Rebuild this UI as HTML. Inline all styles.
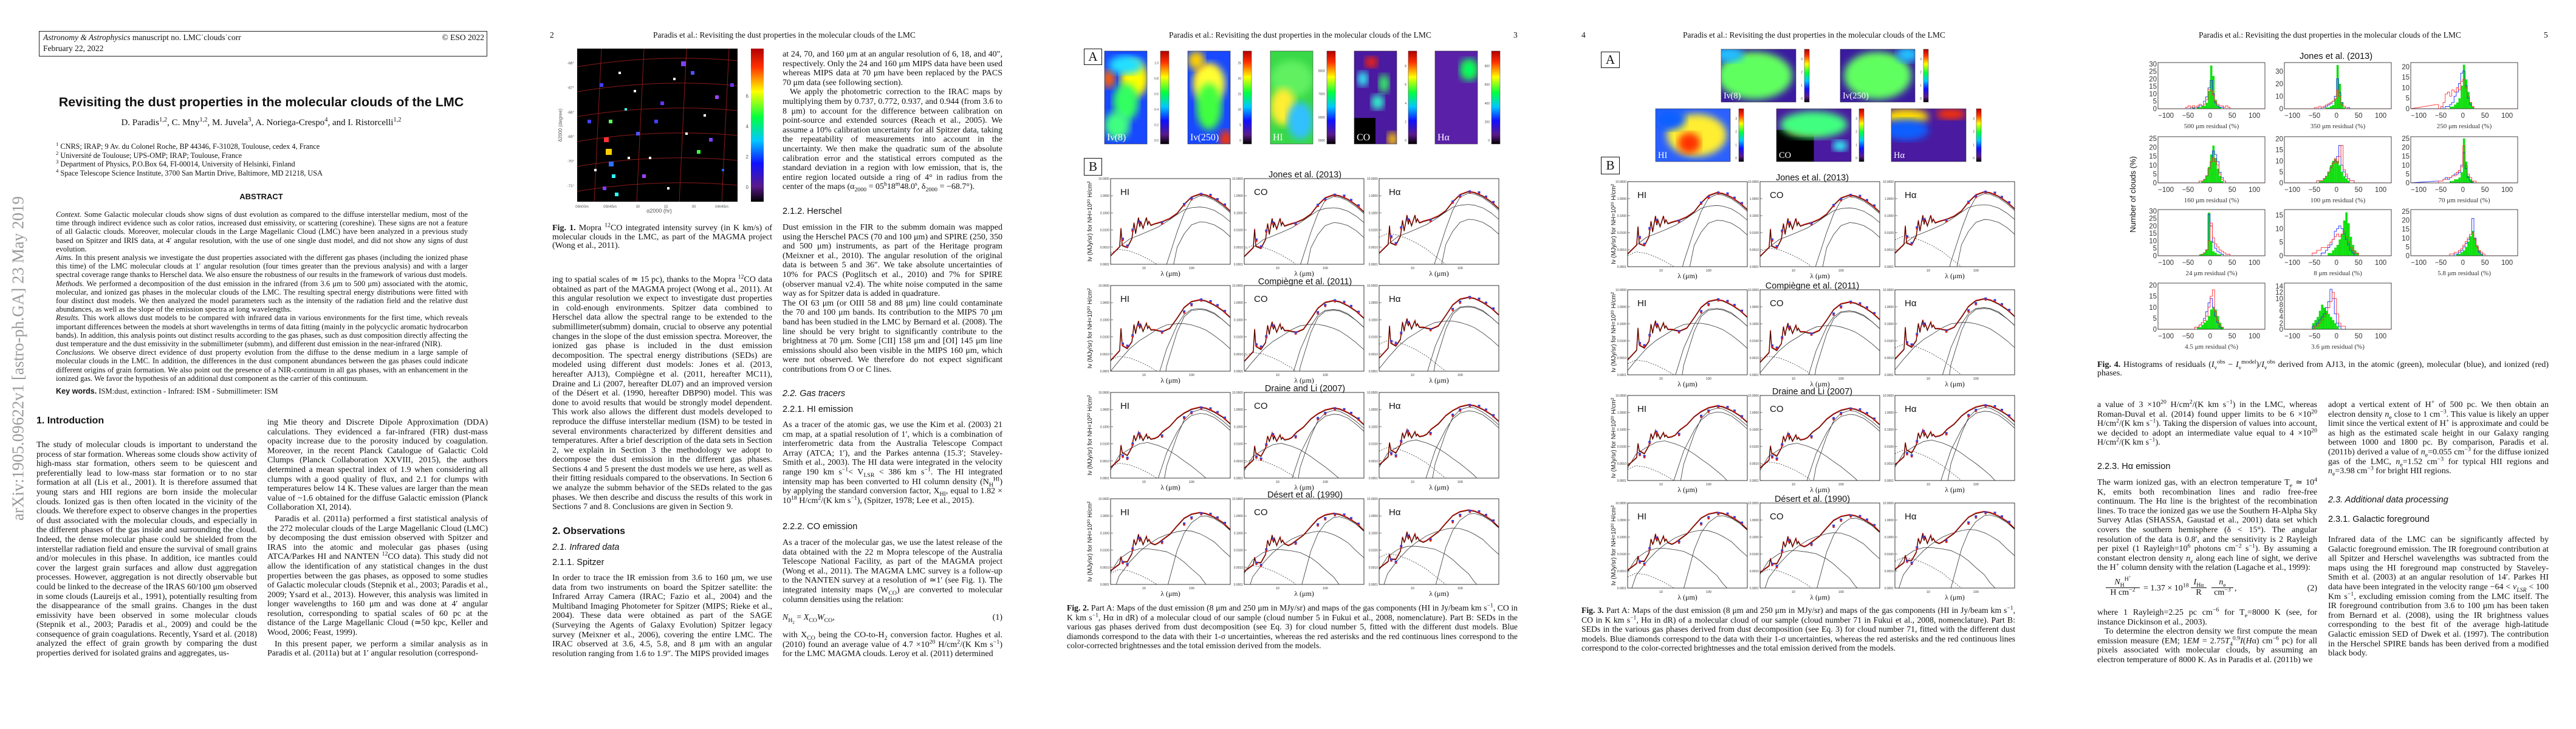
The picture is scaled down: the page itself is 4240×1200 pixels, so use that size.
<!DOCTYPE html>
<html><head><meta charset="utf-8">
<style>
html,body{margin:0;padding:0;background:#fff;}
#root{position:relative;width:4240px;height:1200px;overflow:hidden;background:#fff;font-family:"Liberation Serif",serif;color:#111;}
.abs{position:absolute;}
.txt{position:absolute;font-family:"Liberation Serif",serif;font-size:14px;line-height:15.6px;text-align:justify;color:#111;}
.txt p{margin:0;}
.ind{text-indent:12px;}
.hd{position:absolute;font-family:"Liberation Sans",sans-serif;font-size:14.5px;color:#111;white-space:nowrap;}
.run{position:absolute;font-size:13.5px;white-space:nowrap;top:50px;}
.cap{position:absolute;font-size:13.7px;line-height:15.5px;text-align:justify;}
sup,sub{font-size:70%;line-height:0;}
i{font-style:italic;}
</style></head>
<body>
<div id="root">
<svg id="chart" class="abs" style="left:0;top:0" width="4240" height="1200"></svg>

<!-- PAGE 1 -->
<div class="abs" style="left:64px;top:51px;width:736px;height:40px;border:1px solid #222;">
  <div class="abs" style="left:6px;top:2px;font-size:13.5px;white-space:nowrap"><i>Astronomy &amp; Astrophysics</i> manuscript no. LMC˙clouds˙corr</div>
  <div class="abs" style="left:6px;top:20px;font-size:13.5px">February 22, 2022</div>
  <div class="abs" style="right:4px;top:2px;font-size:13.5px">© ESO 2022</div>
</div>
<div class="abs" style="left:60px;width:740px;top:156px;text-align:center;font-family:'Liberation Sans',sans-serif;font-weight:bold;font-size:21.5px;white-space:nowrap">Revisiting the dust properties in the molecular clouds of the LMC</div>
<div class="abs" style="left:60px;width:740px;top:194px;text-align:center;font-size:15px">D. Paradis<sup>1,2</sup>, C. Mny<sup>1,2</sup>, M. Juvela<sup>3</sup>, A. Noriega-Crespo<sup>4</sup>, and I. Ristorcelli<sup>1,2</sup></div>
<div class="abs" style="left:92px;top:234px;font-size:12.3px;line-height:14.6px">
<div><sup>1</sup> CNRS; IRAP; 9 Av. du Colonel Roche, BP 44346, F-31028, Toulouse, cedex 4, France</div>
<div><sup>2</sup> Université de Toulouse; UPS-OMP; IRAP; Toulouse, France</div>
<div><sup>3</sup> Department of Physics, P.O.Box 64, FI-00014, University of Helsinki, Finland</div>
<div><sup>4</sup> Space Telescope Science Institute, 3700 San Martin Drive, Baltimore, MD 21218, USA</div>
</div>
<div class="abs" style="left:60px;width:740px;top:316px;text-align:center;font-family:'Liberation Sans',sans-serif;font-weight:bold;font-size:13px">ABSTRACT</div>
<div class="txt" style="left:92px;top:346px;width:678px;font-size:12.6px;line-height:14.2px">
<p><i>Context.</i> Some Galactic molecular clouds show signs of dust evolution as compared to the diffuse interstellar medium, most of the time through indirect evidence such as color ratios, increased dust emissivity, or scattering (coreshine). These signs are not a feature of all Galactic clouds. Moreover, molecular clouds in the Large Magellanic Cloud (LMC) have been analyzed in a previous study based on Spitzer and IRIS data, at 4′ angular resolution, with the use of one single dust model, and did not show any signs of dust evolution.</p>
<p><i>Aims.</i> In this present analysis we investigate the dust properties associated with the different gas phases (including the ionized phase this time) of the LMC molecular clouds at 1′ angular resolution (four times greater than the previous analysis) and with a larger spectral coverage range thanks to Herschel data. We also ensure the robustness of our results in the framework of various dust models.</p>
<p><i>Methods.</i> We performed a decomposition of the dust emission in the infrared (from 3.6 μm to 500 μm) associated with the atomic, molecular, and ionized gas phases in the molecular clouds of the LMC. The resulting spectral energy distributions were fitted with four distinct dust models. We then analyzed the model parameters such as the intensity of the radiation field and the relative dust abundances, as well as the slope of the emission spectra at long wavelengths.</p>
<p><i>Results.</i> This work allows dust models to be compared with infrared data in various environments for the first time, which reveals important differences between the models at short wavelengths in terms of data fitting (mainly in the polycyclic aromatic hydrocarbon bands). In addition, this analysis points out distinct results according to the gas phases, such as dust composition directly affecting the dust temperature and the dust emissivity in the submillimeter (submm), and different dust emission in the near-infrared (NIR).</p>
<p><i>Conclusions.</i> We observe direct evidence of dust property evolution from the diffuse to the dense medium in a large sample of molecular clouds in the LMC. In addition, the differences in the dust component abundances between the gas phases could indicate different origins of grain formation. We also point out the presence of a NIR-continuum in all gas phases, with an enhancement in the ionized gas. We favor the hypothesis of an additional dust component as the carrier of this continuum.</p>
</div>
<div class="abs" style="left:92px;top:637px;font-size:12.6px"><b style="font-family:'Liberation Sans',sans-serif">Key words.</b> ISM:dust, extinction - Infrared: ISM - Submillimeter: ISM</div>
<div class="abs" style="left:30px;top:590px;width:0;height:0"><div style="position:absolute;transform:translate(-50%,-50%) rotate(-90deg);white-space:nowrap;font-size:27px;color:#9a9a9a;left:0;top:0">arXiv:1905.09622v1  [astro-ph.GA]  23 May 2019</div></div>
<div class="hd" style="left:60px;top:684px;font-weight:bold;font-size:16px">1. Introduction</div>
<div class="txt" style="left:60px;top:725px;width:363px"><p>The study of molecular clouds is important to understand the process of star formation. Whereas some clouds show activity of high-mass star formation, others seem to be quiescent and preferentially lead to low-mass star formation or to no star formation at all (Lis et al., 2001). It is therefore assumed that young stars and HII regions are born inside the molecular clouds. Ionized gas is then often located in the vicinity of the clouds. We therefore expect to observe changes in the properties of dust associated with the molecular clouds, and especially in the different phases of the gas inside and surrounding the cloud. Indeed, the dense molecular phase could be shielded from the interstellar radiation field and ensure the survival of small grains and/or molecules in this phase. In addition, ice mantles could cover the largest grain surfaces and allow dust aggregation processes. However, aggregation is not directly observable but could be linked to the decrease of the IRAS 60/100 μm observed in some clouds (Laureijs et al., 1991), potentially resulting from the disappearance of the small grains. Changes in the dust emissivity have been observed in some molecular clouds (Stepnik et al., 2003; Paradis et al., 2009) and could be the consequence of grain coagulations. Recently, Ysard et al. (2018) analyzed the effect of grain growth by comparing the dust properties derived for isolated grains and aggregates, us-</p></div>
<div class="txt" style="left:440px;top:688px;width:363px"><p>ing Mie theory and Discrete Dipole Approximation (DDA) calculations. They evidenced a far-infrared (FIR) dust-mass opacity increase due to the porosity induced by coagulation. Moreover, in the recent Planck Catalogue of Galactic Cold Clumps (Planck Collaboration XXVIII, 2015), the authors determined a mean spectral index of 1.9 when considering all clumps with a good quality of flux, and 2.1 for clumps with temperatures below 14 K. These values are larger than the mean value of ~1.6 obtained for the diffuse Galactic emission (Planck Collaboration XI, 2014).</p>
<p class="ind" style="margin-top:3px">Paradis et al. (2011a) performed a first statistical analysis of the 272 molecular clouds of the Large Magellanic Cloud (LMC) by decomposing the dust emission observed with Spitzer and IRAS into the atomic and molecular gas phases (using ATCA/Parkes HI and NANTEN <sup>12</sup>CO data). This study did not allow the identification of any statistical changes in the dust properties between the gas phases, as opposed to some studies of Galactic molecular clouds (Stepnik et al., 2003; Paradis et al., 2009; Ysard et al., 2013). However, this analysis was limited in longer wavelengths to 160 μm and was done at 4′ angular resolution, corresponding to spatial scales of 60 pc at the distance of the Large Magellanic Cloud (≃50 kpc, Keller and Wood, 2006; Feast, 1999).</p>
<p class="ind" style="margin-top:3px">In this present paper, we perform a similar analysis as in Paradis et al. (2011a) but at 1′ angular resolution (correspond-</p></div>

<!-- PAGE 2 -->
<div class="run" style="left:905px">2</div>
<div class="run" style="left:1075px">Paradis et al.: Revisiting the dust properties in the molecular clouds of the LMC</div>
<div class="cap" style="left:909px;top:369px;width:362px;font-size:14px;line-height:14.5px"><b>Fig. 1.</b> Mopra <sup>12</sup>CO integrated intensity survey (in K km/s) of molecular clouds in the LMC, as part of the MAGMA project (Wong et al., 2011).</div>
<div class="txt" style="left:909px;top:453px;width:362px"><p>ing to spatial scales of ≃ 15 pc), thanks to the Mopra <sup>12</sup>CO data obtained as part of the MAGMA project (Wong et al., 2011). At this angular resolution we expect to investigate dust properties in cold-enough environments. Spitzer data combined to Herschel data allow the spectral range to be extended to the submillimeter(submm) domain, crucial to observe any potential changes in the slope of the dust emission spectra. Moreover, the ionized gas phase is included in the dust emission decomposition. The spectral energy distributions (SEDs) are modeled using different dust models: Jones et al. (2013, hereafter AJ13), Compiègne et al. (2011, hereafter MC11), Draine and Li (2007, hereafter DL07) and an improved version of the Désert et al. (1990, hereafter DBP90) model. This was done to avoid results that would be strongly model dependent. This work also allows the different dust models developed to reproduce the diffuse interstellar medium (ISM) to be tested in several environments characterized by different densities and temperatures. After a brief description of the data sets in Section 2, we explain in Section 3 the methodology we adopt to decompose the dust emission in the different gas phases. Sections 4 and 5 present the dust models we use here, as well as their fitting residuals compared to the observations. In Section 6 we analyze the submm behavior of the SEDs related to the gas phases. We then describe and discuss the results of this work in Sections 7 and 8. Conclusions are given in Section 9.</p></div>
<div class="hd" style="left:909px;top:866px;font-weight:bold;font-size:16px">2. Observations</div>
<div class="hd" style="left:909px;top:893px;font-style:italic">2.1. Infrared data</div>
<div class="hd" style="left:909px;top:918px">2.1.1. Spitzer</div>
<div class="txt" style="left:909px;top:944px;width:362px"><p>In order to trace the IR emission from 3.6 to 160 μm, we use data from two instruments on board the Spitzer satellite: the Infrared Array Camera (IRAC; Fazio et al., 2004) and the Multiband Imaging Photometer for Spitzer (MIPS; Rieke et al., 2004). These data were obtained as part of the SAGE (Surveying the Agents of Galaxy Evolution) Spitzer legacy survey (Meixner et al., 2006), covering the entire LMC. The IRAC observed at 3.6, 4.5, 5.8, and 8 μm with an angular resolution ranging from 1.6 to 1.9″. The MIPS provided images</p></div>
<div class="txt" style="left:1288px;top:82px;width:362px"><p>at 24, 70, and 160 μm at an angular resolution of 6, 18, and 40″, respectively. Only the 24 and 160 μm MIPS data have been used whereas MIPS data at 70 μm have been replaced by the PACS 70 μm data (see following section).</p>
<p class="ind">We apply the photometric correction to the IRAC maps by multiplying them by 0.737, 0.772, 0.937, and 0.944 (from 3.6 to 8 μm) to account for the difference between calibration on point-source and extended sources (Reach et al., 2005). We assume a 10% calibration uncertainty for all Spitzer data, taking the repeatability of measurements into account in the uncertainty. We then make the quadratic sum of the absolute calibration error and the statistical errors computed as the standard deviation in a region with low emission, that is, the entire region located outside a ring of 4° in radius from the center of the maps (α<sub>2000</sub> = 05<sup>h</sup>18<sup>m</sup>48.0<sup>s</sup>, δ<sub>2000</sub> = −68.7°).</p></div>
<div class="hd" style="left:1288px;top:340px">2.1.2. Herschel</div>
<div class="txt" style="left:1288px;top:367px;width:362px"><p>Dust emission in the FIR to the submm domain was mapped using the Herschel PACS (70 and 100 μm) and SPIRE (250, 350 and 500 μm) instruments, as part of the Heritage program (Meixner et al., 2010). The angular resolution of the original data is between 5 and 36″. We take absolute uncertainties of 10% for PACS (Poglitsch et al., 2010) and 7% for SPIRE (observer manual v2.4). The white noise computed in the same way as for Spitzer data is added in quadrature.</p>
<p>The OI 63 μm (or OIII 58 and 88 μm) line could contaminate the 70 and 100 μm bands. Its contribution to the MIPS 70 μm band has been studied in the LMC by Bernard et al. (2008). The line should be very bright to significantly contribute to the brightness at 70 μm. Some [CII] 158 μm and [OI] 145 μm line emissions should also been visible in the MIPS 160 μm, which were not observed. We therefore do not expect significant contributions from O or C lines.</p></div>
<div class="hd" style="left:1288px;top:640px;font-style:italic">2.2. Gas tracers</div>
<div class="hd" style="left:1288px;top:666px">2.2.1. HI emission</div>
<div class="txt" style="left:1288px;top:692px;width:362px"><p>As a tracer of the atomic gas, we use the Kim et al. (2003) 21 cm map, at a spatial resolution of 1′, which is a combination of interferometric data from the Australia Telescope Compact Array (ATCA; 1′), and the Parkes antenna (15.3′; Staveley-Smith et al., 2003). The HI data were integrated in the velocity range 190 km s<sup>−1</sup>&lt; V<sub>LSR</sub> &lt; 386 km s<sup>−1</sup>. The HI integrated intensity map has been converted to HI column density (N<sub>H</sub><sup>HI</sup>) by applying the standard conversion factor, X<sub>HI</sub>, equal to 1.82 × 10<sup>18</sup> H/cm<sup>2</sup>/(K km s<sup>−1</sup>), (Spitzer, 1978; Lee et al., 2015).</p></div>
<div class="hd" style="left:1288px;top:859px">2.2.2. CO emission</div>
<div class="txt" style="left:1288px;top:886px;width:362px"><p>As a tracer of the molecular gas, we use the latest release of the data obtained with the 22 m Mopra telescope of the Australia Telescope National Facility, as part of the MAGMA project (Wong et al., 2011). The MAGMA LMC survey is a follow-up to the NANTEN survey at a resolution of ≃1′ (see Fig. 1). The integrated intensity maps (W<sub>CO</sub>) are converted to molecular column densities using the relation:</p>
<p style="margin-top:14px;margin-bottom:12px;text-align:left"><i>N</i><sub>H<sub>2</sub></sub> = <i>X</i><sub>CO</sub><i>W</i><sub>CO</sub>,<span style="float:right">(1)</span></p>
<p>with X<sub>CO</sub> being the CO-to-H<sub>2</sub> conversion factor. Hughes et al. (2010) found an average value of 4.7 ×10<sup>20</sup> H/cm<sup>2</sup>/(K Km s<sup>−1</sup>) for the LMC MAGMA clouds. Leroy et al. (2011) determined</p></div>

<!-- PAGE 3 -->
<div class="run" style="left:1924px">Paradis et al.: Revisiting the dust properties in the molecular clouds of the LMC</div>
<div class="run" style="left:2491px">3</div>
<div class="abs" style="left:1784px;top:80px;width:28px;height:25px;border:1px solid #111;font-size:21px;text-align:center;line-height:25px">A</div>
<div class="abs" style="left:1784px;top:260px;width:28px;height:27px;border:1px solid #111;font-size:21px;text-align:center;line-height:27px">B</div>
<div class="cap" style="left:1756px;top:993px;width:742px"><b>Fig. 2.</b> Part A: Maps of the dust emission (8 μm and 250 μm in MJy/sr) and maps of the gas components (HI in Jy/beam km s<sup>−1</sup>, CO in K km s<sup>−1</sup>, Hα in dR) of a molecular cloud of our sample (cloud number 5 in Fukui et al., 2008, nomenclature). Part B: SEDs in the various gas phases derived from dust decomposition (see Eq. 3) for cloud number 5, fitted with the different dust models. Blue diamonds correspond to the data with their 1-σ uncertainties, whereas the red asterisks and the red continuous lines correspond to the color-corrected brightnesses and the total emission derived from the models.</div>

<!-- PAGE 4 -->
<div class="run" style="left:2603px">4</div>
<div class="run" style="left:2770px">Paradis et al.: Revisiting the dust properties in the molecular clouds of the LMC</div>
<div class="abs" style="left:2635px;top:85px;width:29px;height:25px;border:1px solid #111;font-size:21px;text-align:center;line-height:25px">A</div>
<div class="abs" style="left:2635px;top:258px;width:29px;height:27px;border:1px solid #111;font-size:21px;text-align:center;line-height:27px">B</div>
<div class="cap" style="left:2603px;top:997px;width:714px"><b>Fig. 3.</b> Part A: Maps of the dust emission (8 μm and 250 μm in MJy/sr) and maps of the gas components (HI in Jy/beam km s<sup>−1</sup>, CO in K km s<sup>−1</sup>, Hα in dR) of a molecular cloud of our sample (cloud number 71 in Fukui et al., 2008, nomenclature). Part B: SEDs in the various gas phases derived from dust decomposition (see Eq. 3) for cloud number 71, fitted with the different dust models. Blue diamonds correspond to the data with their 1-σ uncertainties, whereas the red asterisks and the red continuous lines correspond to the color-corrected brightnesses and the total emission derived from the models.</div>

<!-- PAGE 5 -->
<div class="run" style="left:3619px">Paradis et al.: Revisiting the dust properties in the molecular clouds of the LMC</div>
<div class="run" style="left:4187px">5</div>
<div class="cap" style="left:3452px;top:594px;width:743px;font-size:14px;line-height:14px"><b>Fig. 4.</b> Histograms of residuals (<i>I</i><sub>ν</sub><sup>obs</sup> − <i>I</i><sub>ν</sub><sup>model</sup>)/<i>I</i><sub>ν</sub><sup>obs</sup> derived from AJ13, in the atomic (green), molecular (blue), and ionized (red) phases.</div>
<div class="txt" style="left:3452px;top:659px;width:362px"><p>a value of 3 ×10<sup>20</sup> H/cm<sup>2</sup>/(K km s<sup>−1</sup>) in the LMC, whereas Roman-Duval et al. (2014) found upper limits to be 6 ×10<sup>20</sup> H/cm<sup>2</sup>/(K km s<sup>−1</sup>). Taking the dispersion of values into account, we decided to adopt an intermediate value equal to 4 ×10<sup>20</sup> H/cm<sup>2</sup>/(K km s<sup>−1</sup>).</p></div>
<div class="hd" style="left:3452px;top:760px">2.2.3. Hα emission</div>
<div class="txt" style="left:3452px;top:787px;width:362px"><p>The warm ionized gas, with an electron temperature T<sub>e</sub> ≃ 10<sup>4</sup> K, emits both recombination lines and radio free-free continuum. The Hα line is the brightest of the recombination lines. To trace the ionized gas we use the Southern H-Alpha Sky Survey Atlas (SHASSA, Gaustad et al., 2001) data set which covers the southern hemisphere (δ &lt; 15°). The angular resolution of the data is 0.8′, and the sensitivity is 2 Rayleigh per pixel (1 Rayleigh=10<sup>6</sup> photons cm<sup>−2</sup> s<sup>−1</sup>). By assuming a constant electron density <i>n<sub>e</sub></i> along each line of sight, we derive the H<sup>+</sup> column density with the relation (Lagache et al., 1999):</p>
<div style="height:58px;position:relative;text-align:left">
 <div style="position:absolute;left:14px;top:8px;text-align:center;width:56px"><div style="border-bottom:1px solid #111"><i>N</i><sub>H</sub><sup>H<sup>+</sup></sup></div><div>H cm<sup>−2</sup></div></div>
 <div style="position:absolute;left:76px;top:18px">= 1.37 × 10<sup>18</sup></div>
 <div style="position:absolute;left:154px;top:8px;text-align:center;width:26px"><div style="border-bottom:1px solid #111"><i>I</i><sub>Hα</sub></div><div>R</div></div>
 <div style="position:absolute;left:188px;top:8px;text-align:center;width:36px"><div style="border-bottom:1px solid #111"><i>n</i><sub>e</sub></div><div>cm<sup>−3</sup></div></div>
 <div style="position:absolute;left:226px;top:18px">,</div>
 <div style="position:absolute;right:0;top:18px">(2)</div>
</div>
<p>where 1 Rayleigh=2.25 pc cm<sup>−6</sup> for T<sub>e</sub>=8000 K (see, for instance Dickinson et al., 2003).</p>
<p class="ind">To determine the electron density we first compute the mean emission measure (EM; 1<i>EM</i> = 2.75<i>T</i><sub>4</sub><sup>0.9</sup><i>I</i>(<i>H</i>α) cm<sup>−6</sup> pc) for all pixels associated with molecular clouds, by assuming an electron temperature of 8000 K. As in Paradis et al. (2011b) we</p></div>
<div class="txt" style="left:3832px;top:659px;width:363px"><p>adopt a vertical extent of H<sup>+</sup> of 500 pc. We then obtain an electron density <i>n</i><sub>e</sub> close to 1 cm<sup>−3</sup>. This value is likely an upper limit since the vertical extent of H<sup>+</sup> is approximate and could be as high as the estimated scale height in our Galaxy ranging between 1000 and 1800 pc. By comparison, Paradis et al. (2011b) derived a value of <i>n</i><sub>e</sub>=0.055 cm<sup>−3</sup> for the diffuse ionized gas of the LMC, <i>n</i><sub>e</sub>=1.52 cm<sup>−3</sup> for typical HII regions and <i>n</i><sub>e</sub>=3.98 cm<sup>−3</sup> for bright HII regions.</p></div>
<div class="hd" style="left:3832px;top:815px;font-style:italic">2.3. Additional data processing</div>
<div class="hd" style="left:3832px;top:847px">2.3.1. Galactic foreground</div>
<div class="txt" style="left:3832px;top:881px;width:363px"><p>Infrared data of the LMC can be significantly affected by Galactic foreground emission. The IR foreground contribution at all Spitzer and Herschel wavelengths was subtracted from the maps using the HI foreground map constructed by Staveley-Smith et al. (2003) at an angular resolution of 14′. Parkes HI data have been integrated in the velocity range −64 &lt; <i>v<sub>LSR</sub></i> &lt; 100 Km s<sup>−1</sup>, excluding emission coming from the LMC itself. The IR foreground contribution from 3.6 to 100 μm has been taken from Bernard et al. (2008), using the IR brightness values corresponding to the best fit of the average high-latitude Galactic emission SED of Dwek et al. (1997). The contribution in the Herschel SPIRE bands has been derived from a modified black body.</p></div>
</div>

<script>
// ---------- SED data ----------
const sedL = [2,3.1,3.3,3.5,4.5,5.6,6.2,6.7,7.0,7.7,8.2,8.6,9.6,11.3,12.0,12.7,14,17,20,25,35,50,70,100,150,200,300,450,650];
const aj13Total = [0.0003,0.001,0.012,0.0012,0.0009,0.003,0.025,0.006,0.012,0.05,0.015,0.03,0.012,0.05,0.02,0.03,0.018,0.022,0.025,0.03,0.045,0.09,0.3,0.8,1.2,1.05,0.65,0.3,0.12];
const mc11Total = [0.0004,0.0015,0.03,0.003,0.002,0.005,0.05,0.015,0.03,0.08,0.03,0.05,0.02,0.06,0.03,0.04,0.025,0.025,0.022,0.02,0.03,0.12,0.5,1.1,1.4,1.2,0.7,0.33,0.13];
const dl07Total = [0.0004,0.0012,0.008,0.003,0.002,0.006,0.03,0.015,0.02,0.045,0.02,0.03,0.015,0.035,0.02,0.025,0.018,0.02,0.025,0.05,0.1,0.3,0.6,1.0,1.3,1.15,0.7,0.35,0.14];
const dbp90Total = [0.0006,0.0015,0.004,0.002,0.002,0.006,0.04,0.02,0.025,0.08,0.03,0.05,0.02,0.06,0.03,0.04,0.025,0.02,0.025,0.04,0.08,0.25,0.7,1.2,1.5,1.3,0.8,0.4,0.15];
const compL = [2,3,5,8,12,20,30,50,70,100,150,200,300,450,650];
const aj13CompA = [0.0003,0.001,0.003,0.005,0.008,0.015,0.03,0.08,0.15,0.2,0.22,0.2,0.14,0.07,0.03];
const aj13CompB = [1e-7,1e-7,1e-7,1e-7,1e-7,1e-6,0.0001,0.008,0.1,0.6,1.0,0.9,0.55,0.25,0.1];
const aj13CompC = [1e-7,1e-7,1e-7,1e-7,1e-7,1e-7,1e-6,0.001,0.006,0.02,0.03,0.028,0.02,0.01,0.004];
const mc11CompA = [0.0001,0.0004,0.002,0.006,0.012,0.03,0.05,0.06,0.06,0.05,0.035,0.025,0.012,0.005,0.002];
const mc11CompB = [1e-7,1e-7,1e-7,1e-7,1e-7,0.00005,0.002,0.05,0.2,0.4,0.45,0.4,0.25,0.1,0.04];
const mc11CompC = [1e-7,1e-7,1e-7,1e-7,1e-7,1e-7,0.0002,0.02,0.15,0.35,0.4,0.36,0.22,0.1,0.04];
const dl07CompA = [0.0003,0.002,0.005,0.01,0.012,0.008,0.005,0.002,0.001,0.0005,0.0002,0.0001,0.00003,0.00001,1e-6];
const dl07CompB = [1e-7,1e-7,1e-7,1e-7,1e-6,0.0001,0.003,0.05,0.2,0.45,0.6,0.55,0.35,0.15,0.06];
const dl07CompC = [1e-7,1e-7,1e-7,1e-7,1e-7,1e-6,0.0005,0.03,0.25,0.7,1.0,0.9,0.5,0.22,0.09];
const dbp90CompA = [0.0005,0.003,0.008,0.012,0.012,0.01,0.008,0.004,0.002,0.0008,0.0003,0.0001,0.00003,1e-6,1e-7];
const dbp90CompB = [0.00001,0.0003,0.002,0.008,0.02,0.05,0.08,0.12,0.14,0.13,0.09,0.06,0.03,0.01,0.004];
const dbp90CompC = [1e-7,1e-7,1e-7,1e-7,1e-7,1e-7,0.00005,0.01,0.1,0.4,0.9,1.0,0.7,0.35,0.14];
const nirCont = [0.0015,0.0025,0.002,0.0012,0.0007,0.0003,0.00012,0.00004,0.00001,1e-6,1e-7,1e-7,1e-7,1e-7,1e-7];
const obsL = [3.6,4.5,5.8,8,24,70,100,160,250,350,500];
const aj13Obs = [0.003,0.0012,0.01,0.03,0.027,0.32,0.7,1.25,1.1,0.62,0.3];
const mc11Obs = [0.004,0.003,0.012,0.05,0.02,0.3,0.8,1.5,1.2,0.7,0.32];
const dl07Obs = [0.002,0.0015,0.01,0.04,0.03,0.35,0.7,1.3,1.15,0.7,0.33];
const dbp90Obs = [0.002,0.0015,0.012,0.05,0.03,0.35,0.8,1.4,1.3,0.8,0.38];
const phaseNames = ['HI','CO','Hα'];
const fig2PhaseScale = [1,0.9,1.4];
const fig3PhaseScale = [1.8,1.3,2.0];
const phaseNirScale = [0.3,0.5,2.5];
const sedYTickLabels = ['0.0001','0.0010','0.0100','0.1000','1.0000','10.0000'];
const sedXTicks = [10,100];
const modelTitles = ['Jones et al. (2013)','Compiègne et al. (2011)','Draine and Li (2007)','Désert et al. (1990)'];

// ---------- histogram data (Fig 4, % of clouds, bins of 5 from -60) ----------
const histBinStart = -60;
const histBinWidth = 5;
const hist500G = [0,0,0,0,1,0,1,1,2,2,4,12,29,22,6,2,1,0,0,0,0,0,0,0];
const hist500B = [0,0,0,1,0,1,1,2,2,5,8,14,19,10,4,2,1,1,0,0,0,0,0,0];
const hist500R = [0,1,2,1,2,1,2,3,2,3,6,13,12,9,5,3,2,2,1,2,1,0,0,0];
const hist350G = [0,0,0,0,0,0,0,1,1,2,3,8,35,20,5,1,0,0,0,0,0,0,0,0];
const hist350B = [0,0,0,0,0,1,1,2,3,4,6,10,24,13,5,2,1,1,0,0,0,0,0,0];
const hist350R = [0,0,1,1,2,1,2,3,4,5,6,8,15,10,3,2,1,0,0,0,0,0,0,0];
const hist250G = [0,0,0,0,0,0,1,1,2,3,5,11,21,14,8,3,1,0,0,0,0,0,0,0];
const hist250B = [0,0,1,0,1,1,2,3,6,8,12,17,18,11,5,2,1,0,0,0,0,0,0,0];
const hist250R = [2,0,1,3,7,8,6,9,8,10,9,13,14,10,6,3,1,0,0,0,0,0,0,0];
const hist160G = [0,0,0,0,0,0,0,0,1,2,4,9,16,21,14,8,4,1,0,0,0,0,0,0];
const hist160B = [0,0,0,0,0,0,0,1,1,2,4,8,12,18,16,12,6,3,1,0,0,0,0,0];
const hist160R = [0,0,0,0,0,0,0,1,1,2,4,8,12,14,12,10,5,2,1,0,0,0,0,0];
const hist100G = [0,0,0,0,1,1,2,3,5,8,10,11,10,8,5,3,2,1,0,0,0,0,0,0];
const hist100B = [0,0,0,1,1,1,2,3,5,7,9,10,12,17,8,5,3,2,1,1,0,0,0,0];
const hist100R = [0,0,0,1,1,1,2,3,5,7,9,11,9,12,17,6,4,2,1,1,0,0,0,0];
const hist70G = [0,0,0,0,0,0,1,1,2,2,3,6,25,12,4,2,1,0,0,0,0,0,0,0];
const hist70B = [1,1,1,2,3,2,3,4,5,5,6,10,17,8,3,1,0,0,0,0,0,0,0,0];
const hist70R = [0,1,1,2,2,3,3,4,4,6,7,9,21,10,5,3,1,1,0,0,0,0,0,0];
const hist24G = [0,0,0,0,0,0,0,1,1,2,4,29,10,3,2,1,1,0,0,0,0,0,0,0];
const hist24B = [0,0,0,0,0,0,0,0,1,2,4,28,20,9,5,3,2,1,0,0,0,0,0,0];
const hist24R = [0,0,0,0,0,0,0,0,1,2,4,10,22,12,8,6,4,3,2,1,1,0,0,0];
const hist8G = [0,0,0,0,0,0,0,0,1,1,2,3,4,6,8,13,16,12,7,4,2,1,0,0];
const hist8B = [0,0,0,0,0,1,1,2,3,4,6,9,10,11,10,8,6,4,2,1,0,0,0,0];
const hist8R = [0,1,1,2,2,3,3,3,4,5,6,7,8,7,8,9,7,5,3,2,1,1,0,0];
const hist58G = [0,0,0,0,0,0,0,0,0,1,1,2,3,5,8,11,14,10,6,3,1,0,0,0];
const hist58B = [0,0,0,0,0,0,0,0,1,1,2,3,5,7,9,12,21,10,5,2,1,0,0,0];
const hist58R = [0,0,0,0,0,0,1,1,2,2,3,4,6,8,10,12,13,9,5,3,2,1,0,0];
const hist45G = [0,0,0,0,0,0,1,1,2,3,4,6,9,10,9,6,3,1,0,0,0,0,0,0];
const hist45B = [0,0,0,0,0,1,1,2,3,5,8,12,14,10,6,3,1,0,0,0,0,0,0,0];
const hist45R = [0,0,0,0,0,1,1,2,3,4,6,10,15,18,8,4,2,1,0,0,0,0,0,0];
const hist36G = [0,2,3,4,6,8,7,6,5,4,3,2,1,0,0,0,0,0,0,0,0,0,0,0];
const hist36B = [0,1,1,2,3,4,5,7,9,13,10,5,2,1,0,0,0,0,0,0,0,0,0,0];
const hist36R = [0,0,1,1,2,3,4,5,7,9,12,10,5,2,1,1,0,0,0,0,0,0,0,0];
const histLabels = ['500 μm residual (%)','350 μm residual (%)','250 μm residual (%)','160 μm residual (%)','100 μm residual (%)','70 μm residual (%)','24 μm residual (%)','8 μm residual (%)','5.8 μm residual (%)','4.5 μm residual (%)','3.6 μm residual (%)'];
const histYMax = [31,37,22,26,21,26,31,17,26,21,15];
const histYStep = [5,10,5,5,5,5,5,5,5,5,2];
const histXTicks = [-100,-50,0,50,100];

// ---------- fig1 data: CO cloud positions (pixel offsets inside map) ----------
const fig1Clouds = [[40,60,3,'#4040ff'],[55,120,3,'#60ff60'],[48,150,4,'#ff3030'],[52,170,5,'#ffcc00'],[56,190,4,'#3070ff'],[60,210,3,'#30ffff'],[45,230,3,'#8040ff'],[30,200,2,'#ffffff'],[80,100,2,'#40ffff'],[100,140,3,'#5050ff'],[120,180,2,'#ffffff'],[140,90,3,'#6a30ff'],[160,50,2,'#ffffff'],[175,25,4,'#8040ff'],[190,40,3,'#5050ff'],[210,110,2,'#ffffff'],[230,80,3,'#a040ff'],[200,170,3,'#40ff40'],[150,230,2,'#ffffff'],[110,210,3,'#a040ff'],[240,200,2,'#3060ff'],[255,60,3,'#6a30ff'],[70,40,2,'#ffffff'],[95,70,2,'#ffffff'],[130,120,3,'#4040ff'],[180,140,2,'#ffffff'],[220,150,3,'#8040ff'],[20,120,3,'#4040ff'],[65,240,3,'#30ffff'],[85,180,2,'#ffffff']];

const NS='http://www.w3.org/2000/svg';
const svg=document.getElementById('chart');
function mk(tag,parent){const e=document.createElementNS(NS,tag);parent.appendChild(e);return e;}
function setA(e,o){for(const k in o)e.setAttribute(k,o[k]);}

const defs=mk('defs',svg);
defs.innerHTML='<linearGradient id="jet" x1="0" y1="1" x2="0" y2="0"><stop offset="0" stop-color="#000"/><stop offset="0.1" stop-color="#5a1a8a"/><stop offset="0.25" stop-color="#1010ff"/><stop offset="0.4" stop-color="#00c8ff"/><stop offset="0.55" stop-color="#00ff40"/><stop offset="0.72" stop-color="#ffff00"/><stop offset="0.88" stop-color="#ff3000"/><stop offset="1" stop-color="#b00000"/></linearGradient><filter id="blur6"><feGaussianBlur stdDeviation="6"/></filter><filter id="blur9"><feGaussianBlur stdDeviation="9"/></filter>';

function txt(parent,x,y,s,size,anchor,extra){const t=mk('text',parent);setA(t,{x:x,y:y,'font-size':size,'text-anchor':anchor||'start','font-family':'Liberation Sans, sans-serif',fill:'#111'});if(extra)setA(t,extra);t.textContent=s;return t;}

// ---------- Fig 1 ----------
(function(){
 const g=mk('g',svg);
 
 
 const x0=950,y0=80,w=264,h=252;
 const bg=mk('rect',g);setA(bg,{x:x0,y:y0,width:w,height:h,fill:'#000'});
 for(let i=0;i<6;i++){const p=mk('path',g);const yy=y0+22+i*41;setA(p,{d:`M${x0} ${yy+8} Q${x0+w/2} ${yy-14} ${x0+w} ${yy-2}`,stroke:'#8a1a1a','stroke-width':1,fill:'none'});}
 for(let i=0;i<4;i++){const p=mk('path',g);const xx=x0+40+i*70;setA(p,{d:`M${xx} ${y0} L${xx-12} ${y0+h}`,stroke:'#8a1a1a','stroke-width':1,fill:'none'});}
 fig1Clouds.forEach(c=>{const r=mk('rect',g);setA(r,{x:x0+c[0]-c[2],y:y0+c[1]-c[2],width:c[2]*2,height:c[2]*2,fill:c[3]});});
 const cb=mk('rect',g);setA(cb,{x:1236,y:80,width:21,height:252,fill:'url(#jet)'});
 ['0','2','4','6'].forEach((s,i)=>txt(g,1232,311-i*50,s,8,'end',{fill:'#555'}));
 ['-66°','-67°','-68°','-69°','-70°','-71°'].forEach((s,i)=>txt(g,945,106+i*40.4,s,6,'end',{fill:'#555'}));
 ['06h00m','05h45m','30','15','00','04h45m'].forEach((s,i)=>txt(g,958+i*46,342,s,6,'middle',{fill:'#555'}));
 txt(g,925,206,'δ2000 (degree)',8,'middle',{transform:'rotate(-90 925 206)',fill:'#555'});
 txt(g,1085,350,'α2000 (hr)',9,'middle',{fill:'#555'});
})();

// ---------- maps ----------
function map(x,y,w,h,bgc,blobs,label,dark,name){
 const g=mk('g',svg);
 
 
 const cp=mk('clipPath',defs);cp.id='cp'+name;const cr=mk('rect',cp);setA(cr,{x:x,y:y,width:w,height:h});
 const inner=mk('g',g);inner.setAttribute('clip-path',`url(#cp${name})`);
 const b=mk('rect',inner);setA(b,{x:x,y:y,width:w,height:h,fill:bgc});
 if(dark){const d=mk('rect',inner);setA(d,{x:x+dark[0]*w,y:y+dark[1]*h,width:dark[2]*w,height:dark[3]*h,fill:'#000'});}
 blobs.forEach(bl=>{const e=mk('ellipse',inner);setA(e,{cx:x+bl[0]*w,cy:y+bl[1]*h,rx:bl[2]*w,ry:bl[3]*h,fill:bl[4],filter:'url(#blur6)'});});
 const fr=mk('rect',g);setA(fr,{x:x,y:y,width:w,height:h,fill:'none',stroke:'#333','stroke-width':0.6});
 txt(g,x+4,y+h-6,label,Math.min(16,h/6),'start',{fill:'#fff','font-family':'Liberation Serif, serif'});
}
function cbar(x,y,w,h,labels,name){
 const r=mk('rect',svg);setA(r,{x:x,y:y,width:w,height:h,fill:'url(#jet)',stroke:'#333','stroke-width':0.5});
 labels.forEach((s,i)=>txt(svg,x-3,y+h-i*(h/(labels.length))-4,s,5,'end',{fill:'#444'}));
}
const mapJet1=[[0.7,0.28,0.22,0.12,'#ff2000'],[0.7,0.3,0.32,0.2,'#ffff00'],[0.1,0.3,0.15,0.1,'#ff6000'],[0.5,0.55,0.3,0.2,'#30ff60'],[0.3,0.8,0.3,0.15,'#40ff80'],[0.5,0.15,0.4,0.1,'#20e0ff']];
const mapJet2=[[0.45,0.3,0.25,0.14,'#ff3000'],[0.5,0.35,0.38,0.22,'#ffff30'],[0.2,0.1,0.2,0.1,'#ffd000'],[0.5,0.6,0.3,0.25,'#40ff40'],[0.9,0.95,0.15,0.1,'#ff3000']];
const mapHI=[[0.5,0.3,0.5,0.2,'#60f060'],[0.3,0.6,0.3,0.2,'#ffee30'],[0.7,0.75,0.3,0.2,'#30c0ff']];
const mapCO=[[0.4,0.12,0.15,0.06,'#ff2000'],[0.7,0.35,0.12,0.1,'#30ff60'],[0.55,0.55,0.15,0.08,'#30ffd0'],[0.2,0.3,0.12,0.08,'#30ffff'],[0.9,0.95,0.12,0.08,'#ffcc00']];
const mapHa=[[0.8,0.2,0.15,0.08,'#ff3000'],[0.8,0.2,0.22,0.12,'#00ff60']];
const mapHa2=[[0.2,0.15,0.3,0.15,'#ffdd00'],[0.2,0.4,0.3,0.2,'#1060ff'],[0.8,0.1,0.2,0.1,'#ff3000']];
const mapCO2=[[0.4,0.35,0.25,0.15,'#ff3000'],[0.5,0.3,0.45,0.25,'#40ff80'],[0.85,0.7,0.1,0.1,'#30ffff']];
const mapD1=[[0.45,0.45,0.3,0.3,'#ff4000'],[0.45,0.5,0.5,0.45,'#60ff60'],[0.1,0.1,0.2,0.15,'#20c0ff']];
const mapD2=[[0.5,0.42,0.25,0.25,'#ff4000'],[0.5,0.5,0.45,0.45,'#60ff60'],[0.9,0.1,0.15,0.15,'#20c0ff']];
const mapHI2=[[0.55,0.5,0.4,0.4,'#ffee30'],[0.45,0.65,0.15,0.2,'#ff3000'],[0.2,0.2,0.2,0.2,'#1060ff']];
const f2x=[1818,1955,2091,2229,2362];
map(f2x[0],84,70,153,'#1848ff',mapJet1,'Iν(8)',null,'fig2-map-8um');
map(f2x[1],84,70,153,'#1848ff',mapJet2,'Iν(250)',null,'fig2-map-250um');
map(f2x[2],84,70,153,'#38d848',mapHI,'HI',null,'fig2-map-hi');
map(f2x[3],84,70,153,'#4a1aa0',mapCO,'CO',[0,0.72,0.5,0.28],'fig2-map-co');
map(f2x[4],84,70,153,'#5a20a8',mapHa,'Hα',null,'fig2-map-halpha');
const cbx=[1910,2046,2184,2318,2455];
cbx.forEach((x,i)=>cbar(x,84,14,153,[['0.0','0.2','0.4','0.6','0.8','1.0'],['0','5','10','15','20','25'],['5000','6000','7000','8000'],['0','2','4','6','8'],['0','200','400','600','800']][i],'fig2-colorbar-'+i));
map(2833,81,123,87,'#3a1aa0',mapD1,'Iν(8)',null,'fig3-map-8um');
map(3029,81,123,87,'#3a1aa0',mapD2,'Iν(250)',null,'fig3-map-250um');
map(2725,179,123,87,'#2a60ff',mapHI2,'HI',null,'fig3-map-hi');
map(2924,179,123,87,'#4a1aa0',mapCO2,'CO',[0,0.4,0.5,0.6],'fig3-map-co');
map(3113,179,123,87,'#4a1aa0',mapHa2,'Hα',null,'fig3-map-halpha');
[[2970,81],[3166,81],[2862,179],[3060,179],[3253,179]].forEach((p,i)=>cbar(p[0],p[1],8,87,['0','1','2','3'],'fig3-colorbar-'+i));

// ---------- SED panels ----------
const models=[
 {tot:aj13Total,comps:[aj13CompA,aj13CompB,aj13CompC],obs:aj13Obs},
 {tot:mc11Total,comps:[mc11CompA,mc11CompB,mc11CompC],obs:mc11Obs},
 {tot:dl07Total,comps:[dl07CompA,dl07CompB,dl07CompC],obs:dl07Obs},
 {tot:dbp90Total,comps:[dbp90CompA,dbp90CompB,dbp90CompC],obs:dbp90Obs}];
const LX0=Math.log10(2),LX1=Math.log10(650);
function sedPanel(x0,y0,w,h,mi,pi,scale,name){
 const g=mk('g',svg);
 
 
 const xs=l=>x0+(Math.log10(l)-LX0)/(LX1-LX0)*w;
 const ys=v=>y0+h-(Math.log10(Math.max(v,1e-8))+4)/5*h;
 const cp=mk('clipPath',defs);cp.id='c'+name;const cr=mk('rect',cp);setA(cr,{x:x0,y:y0,width:w,height:h});
 const inner=mk('g',g);inner.setAttribute('clip-path',`url(#c${name})`);
 const m=models[mi];
 const pathOf=(L,V,k)=>L.map((l,i)=>(i?'L':'M')+xs(l).toFixed(1)+' '+ys(V[i]*k).toFixed(1)).join(' ');
 m.comps.forEach(c=>{const p=mk('path',inner);setA(p,{d:pathOf(compL,c,scale),stroke:'#333','stroke-width':0.8,fill:'none'});});
 const nir=mk('path',inner);setA(nir,{d:pathOf(compL,nirCont,phaseNirScale[pi]),stroke:'#333','stroke-width':0.8,fill:'none','stroke-dasharray':'2,2'});
 const red=mk('path',inner);setA(red,{d:pathOf(sedL,m.tot,scale*1.08),stroke:'#e8251b','stroke-width':1.6,fill:'none'});
 const tot=mk('path',inner);setA(tot,{d:pathOf(sedL,m.tot,scale),stroke:'#3a0a00','stroke-width':1.1,fill:'none'});
 obsL.forEach((l,i)=>{const c=mk('rect',inner);setA(c,{x:xs(l)-2,y:ys(m.obs[i]*scale)-2,width:4,height:4,fill:'#3040e0'});
  const r=mk('rect',inner);setA(r,{x:xs(l)-1.5,y:ys(m.obs[i]*scale*0.85)-1.5,width:3,height:3,fill:'#e02020'});});
 const fr=mk('rect',g);setA(fr,{x:x0,y:y0,width:w,height:h,fill:'none',stroke:'#222','stroke-width':0.9});
 sedYTickLabels.forEach((s,i)=>{const yy=y0+h-i*h/5;txt(g,x0-2,yy+2,s,5,'end',{fill:'#333'});const tk=mk('line',g);setA(tk,{x1:x0,x2:x0+4,y1:yy,y2:yy,stroke:'#222','stroke-width':0.6});});
 sedXTicks.forEach(t=>{txt(g,xs(t),y0+h+8,String(t),5.5,'middle',{fill:'#333'});});
 txt(g,x0+16,y0+27,phaseNames[pi],15,'start');
 txt(g,x0+w/2,y0+h+19,'λ (μm)',12,'middle',{'font-family':'Liberation Serif, serif'});
}
function sedFigure(cols,rows,w,h,titleX,ylabX,phaseScale,prefix){
 rows.forEach((ry,mi)=>{
  txt(svg,titleX,ry-2,modelTitles[mi],14.5,'middle');
  cols.forEach((cx,pi)=>sedPanel(cx,ry,w,h,mi,pi,phaseScale[pi],prefix+'-sed-'+mi+'-'+pi));
  const yc=ry+h/2;
  txt(svg,ylabX,yc,'Iν (MJy/sr) for NH=10²⁰ H/cm²',10,'middle',{transform:`rotate(-90 ${ylabX} ${yc})`});
 });
}
sedFigure([1828,2048,2270],[294,470,646,821],197,141,2148,1797,fig2PhaseScale,'fig2');
sedFigure([2679,2897,3119],[299,477,651,828],197,140,2983,2659,fig3PhaseScale,'fig3');

// ---------- Fig 4 histograms ----------
const histSets=[[hist500G,hist500B,hist500R],[hist350G,hist350B,hist350R],[hist250G,hist250B,hist250R],[hist160G,hist160B,hist160R],[hist100G,hist100B,hist100R],[hist70G,hist70B,hist70R],[hist24G,hist24B,hist24R],[hist8G,hist8B,hist8R],[hist58G,hist58B,hist58R],[hist45G,hist45B,hist45R],[hist36G,hist36B,hist36R]];
const hCols=[3552,3760,3968],hRows=[103,225,345,466],hW=176,hH=76;
txt(svg,3845,97,'Jones et al. (2013)',14.5,'middle');
txt(svg,3515,320,'Number of clouds (%)',13,'middle',{transform:'rotate(-90 3515 320)'});
histSets.forEach((set,k)=>{
 const x0=hCols[k%3],y0=hRows[Math.floor(k/3)];
 const g=mk('g',svg);
 
 
 const xs=v=>x0+(v+118)/242*hW;
 const ys=v=>y0+hH-v/histYMax[k]*hH;
 set[0].forEach((v,i)=>{if(!v)return;const b=mk('rect',g);const a=histBinStart+i*histBinWidth;setA(b,{x:xs(a),y:ys(v),width:xs(a+histBinWidth)-xs(a),height:y0+hH-ys(v),fill:'#10e010'});});
 [[set[1],'#2030ff','molecular-step'],[set[2],'#ff3030','ionized-step']].forEach(([arr,col,nm])=>{
  let d=`M${xs(-118)} ${ys(0)}`;
  arr.forEach((v,i)=>{const a=histBinStart+i*histBinWidth;d+=` L${xs(a).toFixed(1)} ${ys(v).toFixed(1)} L${xs(a+histBinWidth).toFixed(1)} ${ys(v).toFixed(1)}`;});
  d+=` L${xs(histBinStart+arr.length*histBinWidth)} ${ys(0)} L${xs(124)} ${ys(0)}`;
  const p=mk('path',g);setA(p,{d:d,stroke:col,'stroke-width':0.9,fill:'none'});
 });
 const fr=mk('rect',g);setA(fr,{x:x0,y:y0,width:hW,height:hH,fill:'none',stroke:'#333','stroke-width':0.9});
 for(let t=0;t<=histYMax[k];t+=histYStep[k]){txt(g,x0-2,ys(t)+4,String(t),11.5,'end',{fill:'#333'});}
 histXTicks.forEach(t=>txt(g,xs(t),y0+hH+15,(t<0?'−':'')+Math.abs(t),11.5,'middle',{fill:'#333'}));
 txt(g,x0+hW/2,y0+hH+32,histLabels[k],11,'middle',{fill:'#333','font-family':'Liberation Serif, serif'});
});
</script>
</body></html>
